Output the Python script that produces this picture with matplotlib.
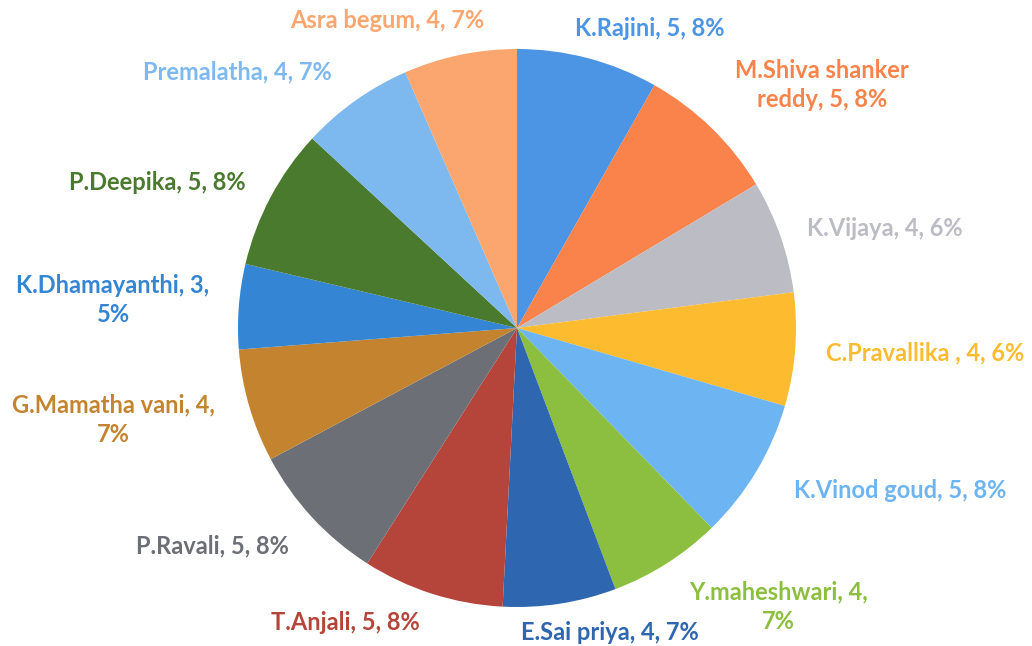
import matplotlib
matplotlib.use("Agg")
import matplotlib.pyplot as plt

# data (clockwise from 12 o'clock)
names = ["K.Rajini", "M.Shiva shanker\nreddy", "K.Vijaya", "C.Pravallika ",
         "K.Vinod goud", "Y.maheshwari", "E.Sai priya", "T.Anjali", "P.Ravali",
         "G.Mamatha vani", "K.Dhamayanthi", "P.Deepika", "Premalatha", "Asra begum"]
values = [5, 5, 4, 4, 5, 4, 4, 5, 5, 4, 3, 5, 4, 4]
pct_text = ["8%", "8%", "6%", "6%", "8%", "7%", "7%", "8%", "8%", "7%", "5%", "8%", "7%", "7%"]

colors = ["#4C94E4", "#F9834A", "#BCBCC4", "#FDBB30", "#6DB5F2", "#8CBF3F", "#2E66B0",
          "#B5443A", "#6C6F76", "#C4842F", "#3485D4", "#4A7A2E", "#7DB8EE", "#FBA66E"]

# label layout (pixel centres in the 1032x646 canvas)
label_px = [(650, 28), (822, 85), (885, 228), (925, 353), (900, 490), (778, 607),
            (610, 632), (345, 622), (212, 546), (113, 420), (113, 300), (157, 183),
            (237, 72), (387, 20)]
wrap_after = {5: True, 9: True, 10: True}

W, H = 1032, 646
cx, cy, R = 517, 328, 279

fig = plt.figure(figsize=(W / 100, H / 100), dpi=100)
ax = fig.add_axes([0, 0, 1, 1])
ax.pie(values, colors=colors, startangle=90, counterclock=False, radius=1,
       wedgeprops=dict(linewidth=0))
ax.set_xlim(-cx / R, (W - cx) / R)
ax.set_ylim(-(H - cy) / R, cy / R)
ax.set_aspect("equal")
ax.axis("off")

for i, (nm, v, p) in enumerate(zip(names, values, pct_text)):
    if wrap_after.get(i):
        txt = f"{nm}, {v},\n{p}"
    else:
        txt = f"{nm}, {v}, {p}"
    x, y = label_px[i]
    ax.text(x / W, 1 - y / H, txt, transform=ax.transAxes, ha="center", va="center",
            fontsize=17, fontweight="bold", family="Lato", color=colors[i],
            linespacing=1.35)

fig.savefig("out.png", dpi=100, facecolor="white")
